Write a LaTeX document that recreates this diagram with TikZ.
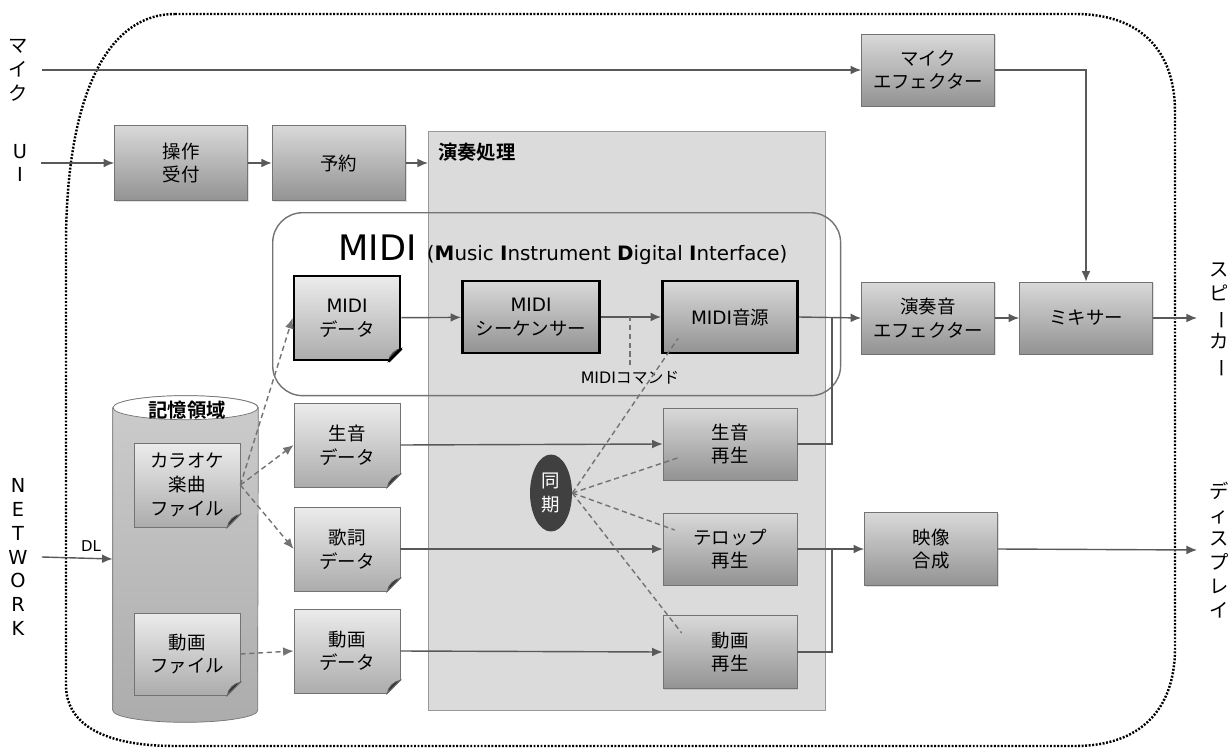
\documentclass[tikz,border=0pt]{standalone}
\usepackage{fontspec}
\setmainfont{Noto Sans CJK JP}[BoldFont={Noto Sans CJK JP Bold}]
\newfontfamily\lat{DejaVu Sans}
\usetikzlibrary{positioning,arrows.meta,shapes.geometric,shadows,calc}

\tikzset{
  box/.style={draw=black!55, top color=gray!30, bottom color=gray!85, minimum width=2.66cm, minimum height=1.46cm,
    align=center, inner sep=2pt, font=\fontsize{10.5}{13.5}\selectfont,
    drop shadow={opacity=0.25, shadow xshift=0.8pt, shadow yshift=-0.8pt}},
  thickbox/.style={box, draw=black, line width=1.6pt},
  docbox/.style={box, top color=gray!15, bottom color=gray!65, minimum width=2.12cm, minimum height=1.68cm},
  region/.style={draw=black!40, fill=gray!28, line width=0.8pt, inner sep=0},
  midiframe/.style={draw=black!55, line width=0.8pt, rounded corners=0.6cm, inner sep=0},
  outerframe/.style={draw=black, line width=1.4pt, dash pattern=on 1.1pt off 0.9pt},
  arr/.style={draw=black!65, line width=0.8pt, -{Latex[length=6pt,width=5pt]}},
  link/.style={draw=black!65, line width=0.8pt},
  darr/.style={arr, draw=black!55, dash pattern=on 3pt off 2pt},
  syncline/.style={draw=black!55, line width=0.8pt, dash pattern=on 3pt off 2pt},
  sidelbl/.style={align=center, inner xsep=8pt, font=\fontsize{11}{13.6}\selectfont},
}
\newcommand{\chouon}{\makebox[1em][c]{\rotatebox[origin=c]{-90}{\makebox[0.9em][c]{ー}}}}

\begin{document}
\begin{tikzpicture}[x=0.02cm, y=-0.02cm]
  \useasboundingbox (0,0) rectangle (1231,750);
  % outer frame %
  \draw[outerframe] (175,14) -- (1075,14) .. controls (1140,14) and (1175,50) .. (1175,112)
    -- (1175,648) .. controls (1175,710) and (1140,746) .. (1075,746)
    -- (175,746) .. controls (105,746) and (66,725) .. (66,685)
    -- (66,245) .. controls (66,100) and (105,14) .. (175,14);
  % regions %
  \node[region, anchor=north west, minimum width=7.94cm, minimum height=11.58cm] (ensou) at (428,131) {};
  \node[anchor=north west, font=\bfseries\fontsize{11}{13}\selectfont] (ensoulbl) at (432,137) {演奏処理};
  \node[midiframe, anchor=north west, minimum width=11.36cm, minimum height=3.66cm] (midi) at (272,212) {};
  \node[anchor=base west, inner sep=0, font=\lat] (midititle) at (338,260)
    {{\fontsize{20}{20}\selectfont MIDI}\hspace{6pt}{\fontsize{11.3}{11}\selectfont(\textbf{M}usic \textbf{I}nstrument \textbf{D}igital \textbf{I}nterface)}};
  % storage %
  \node[minimum width=2.9cm, minimum height=6.04cm, inner sep=0] (kioku) at (185.5,559) {};
  \path[draw=black!55, top color=gray!40, bottom color=gray!65]
    (kioku.north west) -- (kioku.south west) arc[start angle=180, end angle=0, x radius=72.5, y radius=12]
    -- (kioku.north east) arc[start angle=0, end angle=-180, x radius=72.5, y radius=12] -- cycle;
  \draw[draw=black!55, fill=white] (kioku.north) ellipse[x radius=72.5, y radius=12];
  \node[font=\bfseries\fontsize{11}{13}\selectfont] (kiokulbl) at (187,410) {記憶領域};
  % side labels %
  \node[sidelbl] (mic) at (18,70) {マ\\イ\\ク};
  \node[sidelbl, font=\lat\fontsize{11}{13.6}\selectfont] (ui) at (20,163) {U\\I};
  \node[sidelbl, font=\lat\fontsize{11}{13.6}\selectfont] (net) at (18,557) {N\\E\\T\\W\\O\\R\\K};
  \node[sidelbl] (speaker) at (1219,320) {ス\\ピ\\\chouon\\カ\\\chouon};
  \node[sidelbl] (display) at (1219,550) {デ\\ィ\\ス\\プ\\レ\\イ};
  \node[font=\lat\fontsize{8.5}{10}\selectfont] (dl) at (91,546) {DL};
  \coordinate (spk) at (1197,318);
  \coordinate (disp) at (1197,550);
  % boxes %
  \node[box, minimum height=1.44cm] (micfx) at (928,70) {マイク\\エフェクター};
  \node[box, minimum height=1.5cm] (uketsuke) at (181,163) {操作\\受付};
  \node[box, minimum height=1.5cm, right=0.48cm of uketsuke] (yoyaku) {予約};
  \node[docbox, draw=black, line width=1.6pt] (mdata) at (347,318) {{\lat MIDI}\\データ};
  \node[thickbox, minimum width=2.74cm, minimum height=1.44cm] (seq) at (531,317) {{\lat MIDI}\\シーケンサー};
  \node[thickbox, minimum width=2.7cm, minimum height=1.44cm] (ongen) at (730,317) {{\lat MIDI}音源};
  \node[font=\fontsize{9}{10}\selectfont] (cmdlbl) at (630,378) {{\lat MIDI}コマンド};
  \node[box, minimum height=1.44cm] (ensoufx) at (928,318) {演奏音\\エフェクター};
  \node[box, minimum height=1.44cm] (mixer) at (1086,318) {ミキサー};
  \node[docbox] (karaoke) at (187,485) {カラオケ\\楽曲\\ファイル};
  \node[docbox, minimum height=1.64cm] (dougafile) at (187,654) {動画\\ファイル};
  \node[docbox] (namadata) at (347,445) {生音\\データ};
  \node[docbox] (kashi) at (347,549) {歌詞\\データ};
  \node[docbox] (dougadata) at (347,651) {動画\\データ};
  \node[box, minimum width=2.68cm, minimum height=1.44cm] (namasai) at (730,444) {生音\\再生};
  \node[box, minimum width=2.68cm, minimum height=1.44cm] (telop) at (730,549) {テロップ\\再生};
  \node[box, minimum width=2.68cm, minimum height=1.46cm] (dougasai) at (730,652) {動画\\再生};
  \node[box] (eizou) at (931,549) {映像\\合成};
  \node[ellipse, fill=black!75, text=white, minimum width=0.84cm, minimum height=1.54cm, inner sep=0,
    align=center, font=\fontsize{10.5}{13.5}\selectfont] (douki) at (551,493) {同\\期};
  % folded corners %
  \foreach \d/\bg/\bc/\lw in {mdata/white/black/1.6pt, karaoke/gray!50/black!55/0.4pt, dougafile/gray!63/black!55/0.4pt,
      namadata/white/black!55/0.4pt, kashi/white/black!55/0.4pt, dougadata/white/black!55/0.4pt} {
    \coordinate (c) at (\d.south -| \d.east);
    \fill[\bg] ($(c)+(-13,0)$) -- ($(c)+(-13,4)$) -- ($(c)+(4,4)$) -- ($(c)+(4,-13)$) -- ($(c)+(0,-13)$) -- cycle;
    \filldraw[fill=black!80, draw=black!65, line width=0.5pt] ($(c)+(-13,0)$) -- ($(c)+(0,-13)$)
      .. controls ($(c)+(-6,-12)$) and ($(c)+(-12,-7)$) .. ($(c)+(-13,0)$) -- cycle;
    \draw[\bc, line width=\lw] ($(c)+(-13,0)$) -- ($(c)+(0,-13)$);
  }
  % edges %
  \draw[arr] (mic.east) -- (micfx.west);
  \draw[arr] (ui.east) -- (uketsuke.west);
  \draw[arr] (uketsuke) -- (yoyaku);
  \draw[arr] (yoyaku.east) -- (yoyaku.east -| ensou.west);
  \draw[arr] (net.east) -- (kioku.west);
  \draw[arr] (micfx.east) -| (mixer.north);
  \draw[arr] (mdata) -- (seq);
  \draw[arr] (seq) -- (ongen);
  \draw[arr] (ongen.east) -- (ensoufx.west);
  \draw[arr] (ensoufx) -- (mixer);
  \draw[arr] (mixer.east) -- (spk);
  \draw[syncline] (cmdlbl.north) -- (cmdlbl.north |- seq.east);
  \draw[arr] (namadata.east) -- (namasai.west);
  \draw[arr] (kashi.east) -- (telop.west);
  \draw[arr] (dougadata.east) -- (dougasai.west);
  \draw[arr] (telop.east) -- (eizou.west);
  \draw[arr] (eizou.east) -- (disp);
  \draw[link] (namasai.east) -| (832,318);
  \draw[link] (dougasai.east) -| (832,549);
  \draw[darr] (karaoke.east) -- (mdata.west);
  \draw[darr] (karaoke.east) -- (namadata.west);
  \draw[darr] (karaoke.east) -- (kashi.west);
  \draw[darr] (dougafile.east) -- (dougadata.west);
  \draw[syncline] (douki.east) -- ($(ongen.south west)+(17,-16)$);
  \draw[syncline] (douki.east) -- ($(namasai.west)+(15,14)$);
  \draw[syncline] (douki.east) -- ($(telop.west)+(12,-19)$);
  \draw[syncline] (douki.east) -- ($(dougasai.west)+(19,-19)$);
\end{tikzpicture}
\end{document}
